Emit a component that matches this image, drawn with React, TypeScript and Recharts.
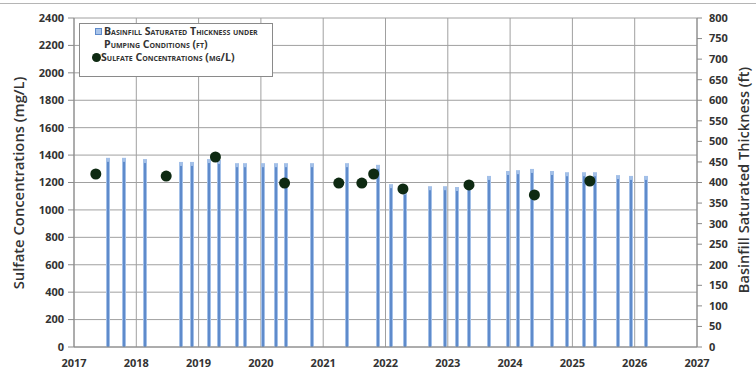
import { ComposedChart, Bar, Scatter, XAxis, YAxis, CartesianGrid, Legend } from "recharts"

const yearTicks = [2017, 2018, 2019, 2020, 2021, 2022, 2023, 2024, 2025, 2026, 2027]
const sulfateTicks = [0, 200, 400, 600, 800, 1000, 1200, 1400, 1600, 1800, 2000, 2200, 2400]
const thicknessTicks = [0, 50, 100, 150, 200, 250, 300, 350, 400, 450, 500, 550, 600, 650, 700, 750, 800]

// pumping-condition thickness readings (decimal year, ft)
const thicknessDates = [
  2017.55, 2017.81, 2018.14, 2018.72, 2018.9, 2019.17, 2019.33, 2019.61, 2019.75, 2020.04, 2020.24, 2020.41,
  2020.82, 2021.38, 2021.88, 2022.09, 2022.31, 2022.72, 2022.96, 2023.15, 2023.34, 2023.67, 2023.96, 2024.13,
  2024.36, 2024.68, 2024.92, 2025.18, 2025.37, 2025.73, 2025.95, 2026.19,
]
const thicknessFt = [
  460, 460, 457, 450, 450, 457, 455, 447, 447, 447, 447, 447,
  447, 447, 443, 396, 380, 391, 391, 389, 399, 416, 428, 430,
  433, 428, 425, 425, 425, 418, 416, 416,
]

// sulfate samples (decimal year, mg/L)
const sulfateDates = [2017.35, 2018.48, 2019.27, 2020.38, 2021.25, 2021.62, 2021.81, 2022.28, 2023.34, 2024.39, 2025.28]
const sulfateMgL = [1262, 1247, 1386, 1196, 1196, 1196, 1262, 1153, 1182, 1109, 1211]

const thicknessData = thicknessDates.map((x, i) => ({ x, thickness: thicknessFt[i] }))
const sulfateData = sulfateDates.map((x, i) => ({ x, sulfate: sulfateMgL[i] }))

const DOT_GREEN = "#0e2a12"
const font = "'Open Sans', sans-serif"
const tickStyle = { fill: "#333", fontSize: 11, fontWeight: 700, fontFamily: font }

// thin two-tone column, centred on the date the scale gives
function ThinBar(p: any) {
  if (p.height == null || p.height <= 0) return null
  const cx = Math.round(p.x + p.width / 2)
  return (
    <g>
      <rect x={cx - 2} y={p.y} width={4} height={p.height} fill="#a3c0e8" />
      <rect x={cx - 1} y={p.y + 4} width={2} height={p.height - 4} fill="#5f8bcb" />
    </g>
  )
}

function LegendBox() {
  const txt = { fontVariant: "small-caps", fontSize: 10.6, fontWeight: 700, color: "#333", fontFamily: font, lineHeight: "13px", whiteSpace: "nowrap" as const }
  return (
    <div style={{ width: 194, height: 54, border: "1px solid #8a8a8a", background: "#fff", boxSizing: "border-box", padding: "1px 0 0 24px" }}>
      <div style={{ ...txt, position: "relative" }}>
        <span style={{ position: "absolute", left: -9, top: 3, width: 5, height: 5, background: "#a9c4ea", border: "1px solid #5f8bcb" }} />
        Basinfill Saturated Thickness under
      </div>
      <div style={txt}>Pumping Conditions (ft)</div>
      <div style={{ ...txt, position: "relative", marginLeft: -3 }}>
        <span style={{ position: "absolute", left: -9, top: 2, width: 9, height: 9, borderRadius: 5, background: DOT_GREEN }} />
        Sulfate Concentrations (mg/L)
      </div>
    </div>
  )
}

export default function App() {
  return (
    <div style={{ position: "relative", width: 756, height: 376, background: "#fff" }}>
      <style>{`body{margin:0}`}</style>
      <div style={{ position: "absolute", left: 0, top: 3, width: 756, borderTop: "1px solid #b5b5b5" }} />
      <ComposedChart width={756} height={376} data={thicknessData} margin={{ top: 18, right: 0, bottom: 0, left: 0 }}>
        <CartesianGrid yAxisId="left" stroke="#a0a0a0" ticks={sulfateTicks} />
        <XAxis
          dataKey="x"
          type="number"
          domain={[2017, 2027]}
          ticks={yearTicks}
          allowDataOverflow
          height={29}
          tick={tickStyle}
          tickSize={0}
          tickMargin={12}
          stroke="#8a8a8a"
        />
        <YAxis
          yAxisId="left"
          domain={[0, 2400]}
          ticks={sulfateTicks}
          width={74}
          tick={tickStyle}
          tickSize={6}
          tickMargin={4}
          stroke="#8a8a8a"
        />
        <YAxis
          yAxisId="right"
          orientation="right"
          domain={[0, 800]}
          ticks={thicknessTicks}
          width={59}
          tick={{ ...tickStyle, textAnchor: "start" }}
          tickSize={5}
          tickMargin={7}
          stroke="#8a8a8a"
        />
        <Legend
          layout="vertical"
          align="center"
          verticalAlign="middle"
          wrapperStyle={{ left: 79, top: 23, width: 194 }}
          content={() => <LegendBox />}
        />
        <Bar yAxisId="right" dataKey="thickness" barSize={4} fill="#6f98d4" shape={ThinBar} isAnimationActive={false} />
        <Scatter
          yAxisId="left"
          data={sulfateData}
          dataKey="sulfate"
          isAnimationActive={false}
          shape={(p: any) => <circle cx={p.cx} cy={p.cy} r={5.5} fill={DOT_GREEN} />}
        />
      </ComposedChart>
      <div
        style={{
          position: "absolute", left: 18, top: 183, transform: "translate(-50%, -50%) rotate(-90deg)",
          whiteSpace: "nowrap", fontFamily: font, fontSize: 14.8, fontWeight: 600, color: "#333",
        }}
      >
        Sulfate Concentrations (mg/L)
      </div>
      <div
        style={{
          position: "absolute", left: 743, top: 180, transform: "translate(-50%, -50%) rotate(-90deg)",
          whiteSpace: "nowrap", fontFamily: font, fontSize: 14.6, fontWeight: 600, color: "#333",
        }}
      >
        Basinfill Saturated Thickness (ft)
      </div>
    </div>
  )
}
